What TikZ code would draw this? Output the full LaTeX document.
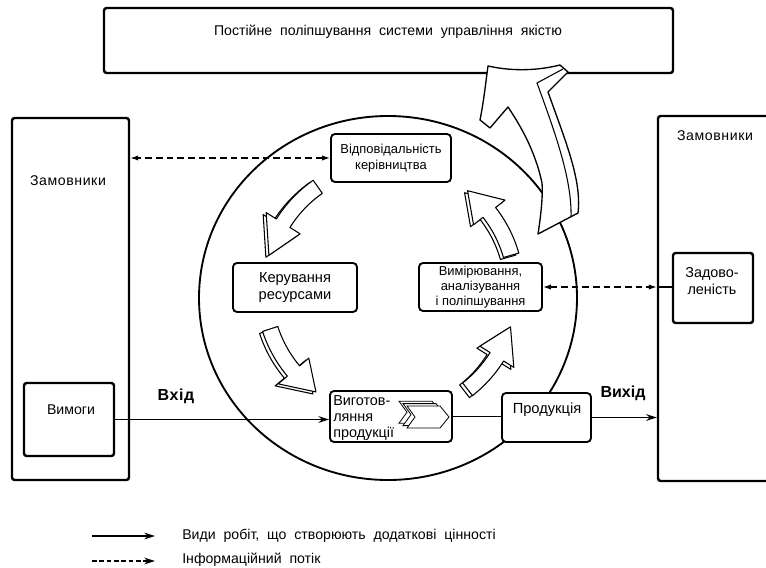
\documentclass[tikz,border=0pt]{standalone}
\usepackage{fontspec}
\setmainfont{Liberation Sans}
\usetikzlibrary{arrows.meta}

\tikzset{
  bigbox/.style={draw, line width=1.8pt, rounded corners=2pt, inner sep=0pt},
  inbox/.style={draw, line width=1.4pt, rounded corners=3pt, fill=white,
    align=center, inner sep=0pt, font=\fontsize{9.7}{11.5}\selectfont},
  lbl/.style={align=center, inner sep=0pt, font=\fontsize{10.6}{12}\selectfont},
  bold/.style={inner sep=0pt, font=\bfseries\fontsize{12}{13}\selectfont},
  flow/.style={line width=1pt, -{Stealth[length=8pt,width=5pt]}},
  info/.style={line width=1pt, dash pattern=on 5pt off 3pt,
    {Latex[length=6pt,width=4pt]}-{Latex[length=6pt,width=4pt]}},
  blk/.style={draw, line width=0.8pt, fill=white, line join=round},
}

% curved block arrow on the ring: start, head base, tip
\newcommand{\ringarrow}[3]{%
  \draw[blk, shift={(-3,2)}] plot[domain=#1:#2, samples=12] (\x:134) -- (#2:146)
    -- (#3:126) -- (#2:106) -- plot[domain=#2:#1, samples=12] (\x:118) -- cycle;
  \draw[blk] plot[domain=#1:#2, samples=12] (\x:134) -- (#2:146)
    -- (#3:126) -- (#2:106) -- plot[domain=#2:#1, samples=12] (\x:118) -- cycle;
}

\begin{document}
\begin{tikzpicture}[x=0.75pt, y=-0.75pt]
  \useasboundingbox (0,0) rectangle (766,567);

  % process circle
  \draw[line width=1.4pt] (388,298) ellipse [x radius=141.75pt, y radius=136.5pt];

  % top box
  \node[bigbox, minimum width=426.75pt, minimum height=48.75pt] (kaizen) at (388.5,40.5) {};
  \node[lbl] at (388,32)
    {Постійне\ \ поліпшування\ \ системи\ \ управління\ \ якістю};

  % customers
  \node[bigbox, minimum width=87.75pt, minimum height=271.5pt] (custL) at (70.5,299) {};
  \node[lbl, font=\fontsize{10.6}{12}\addfontfeatures{LetterSpace=4}] at (68,181) {Замовники};
  \node[bigbox, minimum width=67.5pt, minimum height=54.75pt] (reqs) at (69,419.5) {};
  \node[lbl] at (71,410) {Вимоги};

  \node[bigbox, minimum width=87.75pt, minimum height=273.75pt] (custR) at (716.5,298.5) {};
  \node[lbl, font=\fontsize{10.6}{12}\addfontfeatures{LetterSpace=4}] at (715,136) {Замовники};
  \node[bigbox, minimum width=60pt, minimum height=52.5pt] (satis) at (713,288) {};
  \node[lbl, font=\fontsize{10.8}{12.5}\selectfont] at (712,281) {Задово-\\леність};

  % processes
  \node[inbox, minimum width=90pt, minimum height=36pt] (mgmt) at (391,158)
    {Відповідальність\\керівництва};
  \node[inbox, minimum width=93pt, minimum height=36.75pt,
    font=\fontsize{11}{12.75}\selectfont] (resrc) at (295,287.5)
    {Керування\\ресурсами};
  \node[inbox, minimum width=92.25pt, minimum height=36pt] (measr) at (480.5,287)
    {Вимірювання,\\аналізування\\і поліпшування};
  \node[inbox, minimum width=91.5pt, minimum height=38.25pt] (realz) at (391,416.5) {};
  \node[lbl, anchor=west, align=left, font=\fontsize{10.8}{12}\selectfont] at (333,418)
    {Виготов-\\ляння\\продукції};
  \node[inbox, minimum width=66.75pt, minimum height=36.75pt] (product) at (546.5,417.5) {};
  \node[lbl, font=\fontsize{11}{12}\selectfont] at (547,410) {Продукція};

  % chevrons
  \foreach \d in {8,4,0}
    \draw[line width=0.6pt, fill=white, shift={(-\d,{-0.6*\d})}]
      (407,406) -- (440,406) -- (449,417) -- (440,428) -- (407,428) -- (415,417) -- cycle;

  % ring arrows
  \begin{scope}[shift={(390,290)}]
    \ringarrow{235}{212}{196}
    \ringarrow{162}{140}{126}
    \ringarrow{52}{32}{17}
    \ringarrow{-16}{-38}{-52}
  \end{scope}

  % improvement arrow
  \draw[blk, line width=1pt] (488,66) .. controls (515,72) and (540,70) .. (560,65)
    -- (568,72) -- (548,92) .. controls (565,140) and (582,180) .. (578,213)
    -- (538,234) .. controls (541,215) and (543,195) .. (542,183)
    .. controls (535,150) and (520,125) .. (508,107) -- (490,128) -- (480,120)
    .. controls (484,100) and (486,80) .. (488,66) -- cycle;
  \draw[line width=0.8pt] (563,69) -- (537,83) .. controls (556,135) and (572,180) .. (571,217);

  % flows
  \draw[flow] (reqs.east) -- (reqs.east -| realz.west);
  \node[bold, font=\bfseries\fontsize{12}{13}\addfontfeatures{LetterSpace=4}] at (176,396) {Вхід};
  \draw[line width=1pt] (realz.east) -- (realz.east -| product.west);
  \draw[flow] (product.east) -- (product.east -| custR.west);
  \node[bold] at (623,393) {Вихід};

  \draw[info] (mgmt.west) -- (mgmt.west -| custL.east);
  \coordinate (satin) at (measr.east -| custR.west);
  \draw[info] (measr.east) -- (satin);
  \draw[line width=1pt] (satin) -- (satin -| satis.west);

  % legend
  \coordinate (lga) at (92,536);
  \coordinate (lgb) at (155,536);
  \coordinate (lgc) at (92,561);
  \coordinate (lgd) at (155,561);
  \draw[flow] (lga) -- (lgb);
  \draw[flow, dash pattern=on 3.5pt off 2pt] (lgc) -- (lgd);
  \node[lbl, anchor=west] (lgvalue) at (182,536)
    {Види\ \ робіт,\ \ що\ \ створюють\ \ додаткові\ \ цінності};
  \node[lbl, anchor=west] (lginfo) at (182,560) {Інформаційний\ \ потік};
\end{tikzpicture}
\end{document}
